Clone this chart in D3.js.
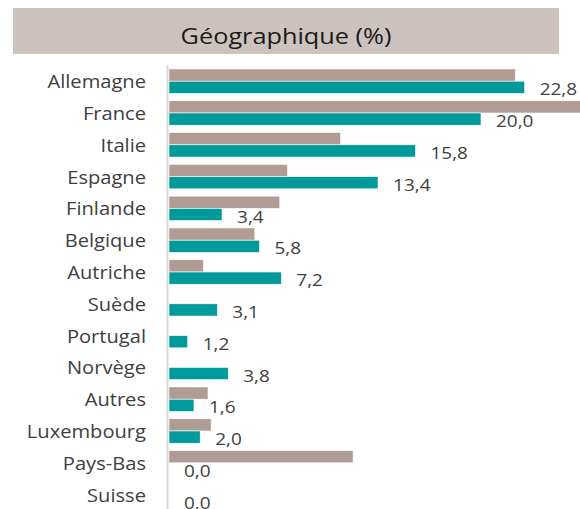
<!DOCTYPE html>
<html lang="fr">
<head>
  <meta charset="UTF-8" />
  <title>Géographique (%)</title>
  <script src="https://cdn.jsdelivr.net/npm/d3@7/dist/d3.min.js"></script>
  <style>
    html, body { margin: 0; padding: 0; background: #fff; }
    body { font-family: "Open Sans", "Noto Sans", Arial, sans-serif; }
    #chart { width: 580px; height: 509px; overflow: hidden; }
  </style>
</head>
<body>
  <div id="chart"></div>
  <script>
    // données
    const pays = ["Allemagne", "France", "Italie", "Espagne", "Finlande", "Belgique", "Autriche",
                  "Suède", "Portugal", "Norvège", "Autres", "Luxembourg", "Pays-Bas", "Suisse"];
    const fonds = [22.8, 20.0, 15.8, 13.4, 3.4, 5.8, 7.2, 3.1, 1.2, 3.8, 1.6, 2.0, 0.0, 0.0];
    const indice = [22.2, 26.5, 11.0, 7.6, 7.1, 5.5, 2.2, 0, 0, 0, 2.5, 2.7, 11.8, 0];
    const series = ["indice", "fonds"];
    const titre = "Géographique (%)";

    const W = 580, H = 509;
    const grey = "#b09c92", teal = "#009a9a", txt = "#404040";
    const stretch = 1.15; // le visuel d'origine est légèrement étiré en largeur

    const svg = d3.select("#chart").append("svg")
      .attr("width", W).attr("height", H);

    // bandeau titre
    svg.append("rect")
      .attr("x", 13).attr("y", 8).attr("width", 546).attr("height", 46)
      .attr("fill", "#cdc3be");
    svg.append("text")
      .attr("transform", `translate(286,44) scale(${stretch},1)`)
      .attr("text-anchor", "middle")
      .attr("font-size", 22)
      .attr("fill", "#1a1a1a")
      .text(titre);

    const x = d3.scaleLinear().domain([0, 26]).range([169, 169 + 26 * 15.6]);
    const y0 = d3.scaleBand().domain(pays).range([65.3, 510.5])
      .paddingInner(0.23).paddingOuter(0.115);
    const y1 = d3.scaleBand().domain(series).range([0, y0.bandwidth()]);

    const rows = pays.map((p, i) => ({ pays: p, indice: indice[i], fonds: fonds[i] }));

    const g = svg.selectAll("g.row").data(rows).enter().append("g")
      .attr("class", "row")
      .attr("transform", d => `translate(0,${y0(d.pays)})`);

    g.selectAll("rect").data(d => series.map(s => ({ s, v: d[s] })).filter(e => e.v > 0))
      .enter().append("rect")
      .attr("x", x(0))
      .attr("y", e => y1(e.s))
      .attr("width", e => x(e.v) - x(0))
      .attr("height", y1.bandwidth())
      .attr("fill", e => e.s === "fonds" ? teal : grey)
      .attr("stroke", "#fff")
      .attr("stroke-width", 0.6);

    // étiquettes de valeur
    g.append("text")
      .attr("transform", d => `translate(${x(d.fonds) + 15},${y1("fonds") + y1.bandwidth() / 2 + 8}) scale(${stretch},1)`)
      .attr("font-size", 16.5)
      .attr("fill", txt)
      .text(d => d3.format(".1f")(d.fonds).replace(".", ","));

    // libellés des pays
    g.append("text")
      .attr("transform", d => `translate(146,${y0.bandwidth() / 2 + 7}) scale(${stretch},1)`)
      .attr("text-anchor", "end")
      .attr("font-size", 17.5)
      .attr("fill", txt)
      .text(d => d.pays);

    // axe vertical
    svg.append("line")
      .attr("x1", 167.5).attr("x2", 167.5)
      .attr("y1", 65).attr("y2", H)
      .attr("stroke", "#d9d9d9").attr("stroke-width", 2);
  </script>
</body>
</html>
